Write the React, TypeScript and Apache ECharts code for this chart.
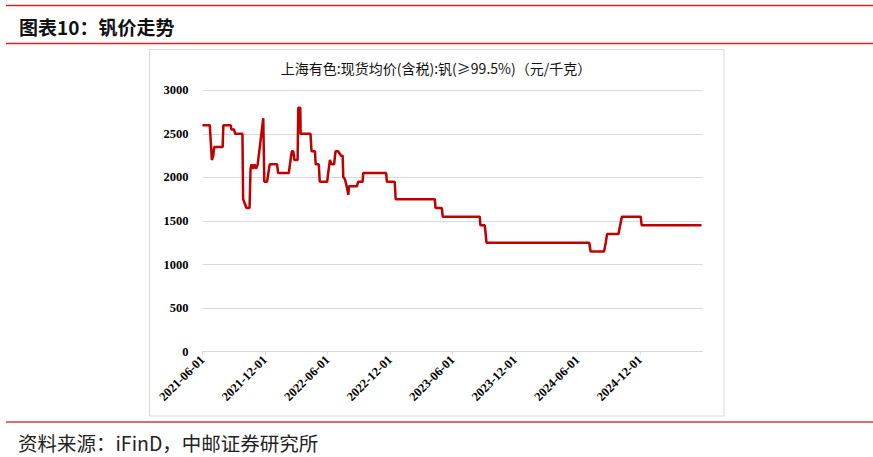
import React, { useEffect, useRef } from "react";
import * as echarts from "echarts";

const pageTitle = "图表10：钒价走势";
const chartTitle = "上海有色:现货均价(含税):钒(≥99.5%)（元/千克）";
const sourceText = "资料来源：iFinD，中邮证券研究所";

const dates = [
  "2021-06-01", "2021-06-22", "2021-06-25", "2021-06-28", "2021-07-02", "2021-07-05",
  "2021-07-30", "2021-08-01", "2021-08-23", "2021-08-25", "2021-09-02", "2021-09-05",
  "2021-09-26", "2021-09-28", "2021-10-08", "2021-10-17", "2021-10-20", "2021-10-23",
  "2021-10-27", "2021-11-01", "2021-11-05", "2021-11-10", "2021-11-26", "2021-11-29",
  "2021-12-07", "2021-12-15", "2022-01-06", "2022-01-09", "2022-02-09", "2022-02-12",
  "2022-02-17", "2022-02-21", "2022-02-24", "2022-03-05", "2022-03-07", "2022-03-13",
  "2022-03-14", "2022-04-12", "2022-04-15", "2022-04-25", "2022-04-27", "2022-05-06",
  "2022-05-09", "2022-05-31", "2022-06-03", "2022-06-08", "2022-06-13", "2022-06-20",
  "2022-06-24", "2022-07-02", "2022-07-05", "2022-07-10", "2022-07-15", "2022-07-17",
  "2022-07-22", "2022-07-27", "2022-08-01", "2022-08-03", "2022-08-27", "2022-08-30",
  "2022-09-12", "2022-09-14", "2022-11-20", "2022-11-22", "2022-12-15", "2022-12-18",
  "2023-04-10", "2023-04-12", "2023-04-30", "2023-05-03", "2023-08-20", "2023-08-22",
  "2023-09-04", "2023-09-09", "2024-07-05", "2024-07-09", "2024-08-18", "2024-08-23",
  "2024-08-27", "2024-09-29", "2024-10-04", "2024-10-09", "2024-12-03", "2024-12-06",
  "2025-05-29",
];

const prices = [
  2600, 2600, 2400, 2200, 2250, 2350,
  2350, 2600, 2600, 2550, 2550, 2500,
  2500, 1750, 1650, 1650, 2100, 2150,
  2100, 2150, 2100, 2150, 2680, 1950,
  1950, 2150, 2150, 2050, 2050, 2150,
  2300, 2300, 2200, 2200, 2800, 2800,
  2500, 2500, 2300, 2300, 2150, 2150,
  1950, 1950, 2050, 2200, 2150, 2150,
  2300, 2300, 2280, 2250, 2250, 2000,
  1980, 1900, 1800, 1900, 1900, 1950,
  1950, 2050, 2050, 1950, 1950, 1750,
  1750, 1650, 1650, 1550, 1550, 1450,
  1450, 1250, 1250, 1150, 1150, 1250,
  1350, 1350, 1450, 1550, 1550, 1450,
  1450,
];

const xTickLabels = [
  "2021-06-01", "2021-12-01", "2022-06-01", "2022-12-01",
  "2023-06-01", "2023-12-01", "2024-06-01", "2024-12-01",
];

const yTicks = [0, 500, 1000, 1500, 2000, 2500, 3000];

const START_YEAR = 2021;
const START_MONTH = 6;

function toMonths(d: string): number {
  const [y, m, day] = d.split("-").map(Number);
  const dim = new Date(y, m, 0).getDate();
  return (y - START_YEAR) * 12 + (m - START_MONTH) + (day - 1) / dim;
}

export default function App() {
  const ref = useRef<HTMLDivElement>(null);

  useEffect(() => {
    if (!ref.current) return;
    const chart = echarts.init(ref.current, null, { renderer: "svg" });
    const seriesData = dates.map((d, i) => [toMonths(d), prices[i]]);
    const red = "#dc2128";
    const serif = "'Liberation Serif', 'Times New Roman', serif";
    const cjk = "'Noto Sans CJK SC', sans-serif";

    chart.setOption({
      animation: false,
      backgroundColor: "#ffffff",
      grid: { left: 202.5, right: 170.5, top: 90.3, bottom: 105.3, containLabel: false },
      xAxis: {
        type: "value",
        min: 0,
        max: 48,
        interval: 6,
        axisLine: { show: true, lineStyle: { color: "#d9d9d9", width: 1 } },
        axisTick: { show: true, length: 3, inside: false, lineStyle: { color: "#d9d9d9" } },
        splitLine: { show: false },
        axisLabel: {
          rotate: 45,
          margin: 6,
          fontFamily: serif,
          fontWeight: "bold",
          fontSize: 12.5,
          color: "#000000",
          showMaxLabel: false,
          formatter: (v: number) => {
            const idx = Math.round(v / 6);
            return xTickLabels[idx] ?? "";
          },
        },
      },
      yAxis: {
        type: "value",
        min: yTicks[0],
        max: yTicks[yTicks.length - 1],
        interval: 500,
        axisLine: { show: false },
        axisTick: { show: false },
        splitLine: { show: true, lineStyle: { color: "#d9d9d9", width: 1 } },
        axisLabel: {
          margin: 14,
          fontFamily: serif,
          fontWeight: "bold",
          fontSize: 12.5,
          color: "#000000",
          formatter: (v: number) => String(v),
        },
      },
      series: [
        {
          type: "line",
          data: seriesData,
          symbol: "none",
          lineStyle: { color: "#c00000", width: 2.5 },
          z: 5,
        },
      ],
      graphic: [
        { type: "line", shape: { x1: 6, y1: 5.5, x2: 873, y2: 5.5 }, style: { stroke: red, lineWidth: 1.5 } },
        {
          type: "text",
          x: 19,
          y: 26,
          style: {
            text: pageTitle,
            fontFamily: cjk,
            fontWeight: "bold",
            fontSize: 19,
            fill: "#111111",
            verticalAlign: "middle",
            align: "left",
          },
        },
        { type: "line", shape: { x1: 6, y1: 43.5, x2: 873, y2: 43.5 }, style: { stroke: red, lineWidth: 1.5 } },
        {
          type: "rect",
          shape: { x: 149.5, y: 49.5, width: 574.5, height: 366.5 },
          style: { fill: "none", stroke: "#d9d9d9", lineWidth: 1 },
          z: -1,
        },
        {
          type: "text",
          x: 436,
          y: 68,
          style: {
            text: chartTitle,
            fontFamily: cjk,
            fontSize: 14,
            fill: "#111111",
            align: "center",
            verticalAlign: "middle",
          },
        },
        { type: "line", shape: { x1: 6, y1: 422, x2: 873, y2: 422 }, style: { stroke: "#e06b6b", lineWidth: 2 } },
        {
          type: "text",
          x: 18,
          y: 442,
          style: {
            text: sourceText,
            fontFamily: cjk,
            fontSize: 19.5,
            fill: "#222222",
            align: "left",
            verticalAlign: "middle",
          },
        },
      ],
    });

    return () => chart.dispose();
  }, []);

  return (
    <div
      ref={ref}
      style={{ position: "absolute", left: 0, top: 0, width: 873, height: 457, background: "#fff" }}
    />
  );
}
